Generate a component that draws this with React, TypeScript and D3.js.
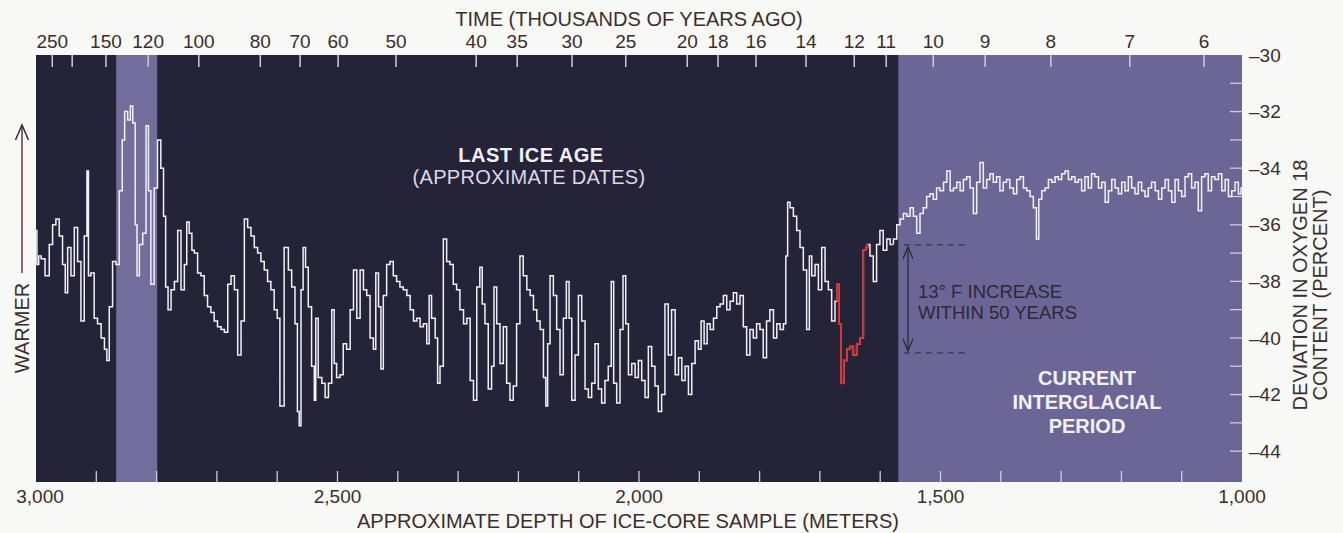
import React from "react";
import * as d3 from "d3";

// ---- data: ice-core depth (m) and oxygen-18 deviation (percent) ----
const depth: number[] = [
  3000, 2997, 2994, 2989, 2981, 2975, 2970, 2964, 2959, 2953, 2950, 2945, 2939, 2934, 2928, 2923, 2917, 2914, 2912, 2906,
  2901, 2895, 2889, 2884, 2881, 2876, 2870, 2865, 2859, 2855, 2851, 2845, 2842, 2837, 2834, 2831, 2826, 2820, 2815, 2812,
  2807, 2801, 2796, 2790, 2787, 2783, 2779, 2773, 2768, 2762, 2757, 2751, 2749, 2743, 2740, 2735, 2729, 2724, 2718, 2713,
  2707, 2702, 2696, 2690, 2685, 2679, 2674, 2668, 2663, 2657, 2652, 2646, 2641, 2635, 2630, 2624, 2619, 2613, 2608, 2602,
  2598, 2593, 2584, 2579, 2573, 2568, 2565, 2562, 2559, 2555, 2551, 2546, 2540, 2537, 2535, 2529, 2523, 2518, 2512, 2507,
  2504, 2499, 2493, 2488, 2482, 2476, 2471, 2465, 2460, 2454, 2449, 2443, 2438, 2435, 2429, 2427, 2421, 2416, 2410, 2405,
  2399, 2394, 2388, 2382, 2377, 2371, 2366, 2360, 2355, 2349, 2347, 2341, 2335, 2333, 2327, 2322, 2316, 2311, 2305, 2300,
  2294, 2288, 2283, 2277, 2272, 2266, 2262, 2258, 2253, 2247, 2242, 2239, 2233, 2228, 2222, 2217, 2211, 2206,
  2200, 2195, 2189, 2183, 2178, 2172, 2167, 2161, 2156, 2153, 2150, 2145, 2139, 2134, 2128, 2123, 2118, 2114, 2109, 2103,
  2098, 2092, 2087, 2081, 2076, 2070, 2065, 2059, 2054, 2048, 2044, 2040, 2034, 2029, 2024, 2020, 2015, 2009, 2004, 1998,
  1993, 1987, 1982, 1976, 1971, 1965, 1960, 1954, 1949, 1943, 1937, 1932, 1926, 1921, 1915, 1910, 1904, 1899, 1895, 1889,
  1885, 1879, 1874, 1868, 1863, 1857, 1852, 1846, 1841, 1835, 1830, 1824, 1819, 1813, 1808,
  1802, 1797, 1791, 1786, 1780, 1774, 1769, 1763, 1758, 1755, 1752, 1747, 1741, 1736, 1730, 1725, 1719, 1716, 1711, 1705,
  1700, 1694, 1689, 1683, 1678, 1672, 1670, 1667, 1663, 1658, 1653, 1647, 1642, 1636, 1631, 1625, 1622, 1620, 1614, 1609,
  1603, 1598, 1592, 1586, 1581, 1575, 1570, 1564, 1559, 1553, 1548, 1542, 1537, 1531, 1526, 1520, 1515, 1509, 1504, 1498,
  1492, 1487, 1481, 1476, 1470, 1465, 1459, 1454, 1448, 1443, 1437, 1432, 1426, 1421, 1415, 1410,
  1404, 1399, 1393, 1388, 1382, 1376, 1371, 1365, 1360, 1354, 1349, 1343, 1339, 1335, 1329, 1324, 1318, 1313, 1307, 1302,
  1296, 1291, 1285, 1280, 1274, 1269, 1263, 1258, 1252, 1247, 1241, 1235, 1230, 1224, 1219, 1213, 1208, 1202, 1197, 1191,
  1186, 1180, 1175, 1169, 1164, 1158, 1153, 1147, 1141, 1136, 1130, 1125, 1119, 1114, 1108, 1103, 1097, 1092, 1086, 1081,
  1075, 1070, 1064, 1059, 1053, 1048, 1042, 1036, 1031, 1025, 1020, 1014, 1009, 1003, 1000,
];

const o18: number[] = [
  -36.2, -37.4, -37.1, -37.2, -37.8, -36.7, -36.0, -35.8, -36.4, -37.4, -38.4, -36.8, -37.8, -36.1, -37.3, -39.4, -36.4, -34.1, -37.8, -37.7,
  -39.3, -39.5, -40.0, -40.4, -40.8, -38.9, -37.3, -37.4, -34.8, -33.0, -32.0, -32.3, -31.8, -32.4, -36.0, -37.8, -36.7, -36.3, -32.5, -34.8,
  -38.1, -34.7, -33.0, -34.0, -35.7, -38.2, -39.0, -38.3, -38.0, -36.2, -38.3, -37.4, -35.9, -36.3, -36.9, -37.0, -37.7, -37.8, -38.5, -38.9,
  -39.1, -39.4, -39.6, -39.7, -39.8, -38.1, -37.8, -38.3, -40.6, -39.4, -35.8, -36.1, -36.4, -36.8, -37.0, -37.3, -37.6, -38.0, -38.3, -39.0,
  -39.3, -42.4, -36.8, -37.6, -38.2, -39.5, -42.6, -43.1, -38.3, -36.8, -37.5, -38.9, -41.0, -42.2, -39.3, -41.4, -41.6, -42.1, -41.6, -39.0,
  -40.9, -41.4, -41.3, -40.2, -40.4, -39.0, -37.6, -39.3, -37.6, -38.3, -38.5, -40.0, -40.4, -37.7, -38.9, -41.1, -38.5, -37.4, -37.3, -37.8,
  -38.0, -38.2, -38.3, -38.5, -39.0, -39.4, -39.3, -39.6, -39.5, -40.2, -38.5, -39.3, -40.0, -41.6, -41.0, -36.5, -37.3, -37.4, -38.1, -38.3,
  -39.0, -39.5, -39.3, -41.5, -42.2, -38.2, -37.5, -38.8, -39.5, -41.8, -41.0, -38.2, -39.5, -40.9, -39.6, -41.6, -42.2, -41.7,
  -39.5, -37.1, -37.8, -38.3, -38.5, -39.0, -39.4, -39.7, -41.4, -42.4, -40.2, -37.8, -38.5, -39.7, -41.3, -39.3, -38.0, -39.3, -42.2, -40.6,
  -38.5, -39.4, -41.8, -42.1, -41.6, -40.2, -41.8, -42.3, -41.5, -41.0, -38.0, -41.6, -42.3, -39.7, -37.8, -39.5, -41.3, -40.9, -41.4, -40.8,
  -41.5, -42.1, -40.3, -41.0, -41.7, -42.6, -42.0, -38.8, -40.6, -39.0, -41.3, -40.7, -41.5, -41.0, -42.0, -40.9, -40.1, -40.4, -39.4, -40.2,
  -39.5, -39.7, -39.3, -38.9, -38.8, -38.5, -39.0, -38.7, -38.4, -38.8, -38.5, -39.6, -40.6, -39.7, -40.0,
  -39.5, -39.7, -40.7, -39.4, -39.0, -40.0, -39.5, -39.7, -39.5, -37.1, -35.2, -35.4, -35.7, -36.2, -36.8, -37.6, -39.7, -37.1, -37.8, -37.4,
  -38.3, -36.8, -38.0, -38.3, -39.4, -38.7, -38.1, -39.5, -41.6, -40.8, -40.4, -40.3, -40.6, -40.2, -40.0, -36.9, -36.8, -36.7, -37.1, -38.0,
  -36.7, -36.2, -36.9, -36.5, -36.7, -36.5, -36.0, -35.8, -35.6, -35.7, -35.4, -35.7, -36.3, -35.6, -35.4, -35.0, -34.9, -35.1, -34.7, -34.8,
  -34.5, -34.1, -34.8, -34.7, -34.5, -34.8, -34.4, -34.3, -34.7, -35.6, -34.5, -33.8, -34.7, -34.4, -34.2, -34.5,
  -34.3, -34.8, -34.5, -34.4, -34.7, -34.9, -34.4, -34.3, -34.7, -34.8, -35.0, -35.4, -36.5, -35.1, -34.8, -34.7, -34.4, -34.5, -34.3, -34.4,
  -34.2, -34.1, -34.4, -34.3, -34.5, -34.4, -34.8, -34.3, -34.7, -34.2, -34.3, -34.7, -34.5, -35.2, -34.8, -34.4, -34.7, -34.9, -34.5, -34.8,
  -34.3, -34.7, -34.9, -34.5, -34.8, -35.0, -34.7, -34.5, -34.8, -35.1, -34.7, -34.4, -34.8, -35.2, -34.4, -34.8, -35.0, -34.3, -34.2, -34.7,
  -34.5, -35.5, -34.3, -34.2, -34.8, -34.3, -34.4, -34.2, -34.8, -34.4, -35.0, -34.8, -34.5, -34.9, -34.7,
];

// abrupt-warming segment drawn in red (depth range, m)
const redFrom = 1672;
const redTo = 1620;

// top axis: age (thousands of years ago) at ice depth (m)
const ageLabels: string[] = ["250", "", "150", "120", "100", "80", "70", "60", "50", "40", "35", "30", "25", "20", "18", "16", "14", "12", "11", "10", "9", "8", "7", "6"];
const ageDepths: number[] = [2973, 2940, 2884, 2814, 2730, 2628, 2562, 2499, 2403, 2270, 2202, 2111, 2022, 1920, 1869, 1806, 1723, 1643, 1590, 1512, 1426, 1317, 1186, 1063];

const depthLabels: number[] = [3000, 2500, 2000, 1500, 1000];
const valueLabels: number[] = [-30, -32, -34, -36, -38, -40, -42, -44];

// shaded periods (depth ranges)
const warmBands: [number, number][] = [[2867, 2799], [1570, 1000]];

// annotation values
const jumpLow = -40.53;
const jumpHigh = -36.71;

const W = 1343;
const H = 533;
const FONT = "'Liberation Sans', Arial, Helvetica, sans-serif";
const INK = "#3a2e2e";

export default function App() {
  const x = d3.scaleLinear().domain([3000, 1000]).range([36, 1242]);
  const y = d3.scaleLinear().domain([-30, -45.09]).range([55, 482]);
  const pts = depth.map((d, i) => [d, o18[i]] as [number, number]);
  const line = d3
    .line<[number, number]>()
    .x((p) => x(p[0]))
    .y((p) => y(p[1]))
    .curve(d3.curveStep);
  const redPts = pts.filter((p) => p[0] <= redFrom && p[0] >= redTo);

  const bottomTicks = d3.range(2900, 1000, -100);
  const rightTicks = d3.range(-31, -45, -1);
  const fmt = d3.format(",");

  const arrowX = x(1554);
  const dashX1 = x(1579);
  const dashX2 = x(1459);

  return (
    <svg width={W} height={H} style={{ position: "absolute", left: 0, top: 0, background: "#f8f8f6" }} fontFamily={FONT}>
      <rect x={0} y={0} width={W} height={H} fill="#f8f8f6" />
      {/* plot background */}
      <rect x={x(3000)} y={y(-30)} width={x(1000) - x(3000)} height={y(-45.09) - y(-30)} fill="#252338" />
      {warmBands.map((b, i) => (
        <rect key={i} x={x(b[0])} y={y(-30)} width={x(b[1]) - x(b[0])} height={y(-45.09) - y(-30)} fill={i === 0 ? "#736d9c" : "#6c6696"} />
      ))}

      {/* top ticks & labels */}
      {ageDepths.map((d, i) => (
        <g key={i}>
          <line x1={x(d)} x2={x(d)} y1={y(-30)} y2={y(-30) + 12} stroke="#cfcbe0" strokeWidth={1.5} />
          {ageLabels[i] && (
            <text x={x(d)} y={48} textAnchor="middle" fontSize={19} fill={INK}>
              {ageLabels[i]}
            </text>
          )}
        </g>
      ))}
      <text x={629} y={26} textAnchor="middle" fontSize={20} fill={INK}>
        TIME (THOUSANDS OF YEARS AGO)
      </text>

      {/* bottom ticks & labels */}
      {bottomTicks.map((d) => (
        <line key={d} x1={x(d)} x2={x(d)} y1={y(-45.09)} y2={y(-45.09) - 11} stroke="#cfcbe0" strokeWidth={1.3} />
      ))}
      {depthLabels.map((d) => (
        <text key={d} x={x(d) + (d === 3000 ? 4 : 0)} y={503} textAnchor="middle" fontSize={19} fill={INK}>
          {fmt(d)}
        </text>
      ))}
      <text x={628} y={528} textAnchor="middle" fontSize={20} fill={INK}>
        APPROXIMATE DEPTH OF ICE-CORE SAMPLE (METERS)
      </text>

      {/* right ticks & labels */}
      {rightTicks.map((v) => (
        <line key={v} x1={x(1000)} x2={x(1000) - 12} y1={y(v)} y2={y(v)} stroke="#cfcbe0" strokeWidth={1.3} />
      ))}
      {valueLabels.map((v) => (
        <text key={v} x={1249} y={y(v)} dy="0.35em" fontSize={19} fill={INK}>
          {"\u2013" + Math.abs(v)}
        </text>
      ))}
      <text transform="translate(1307,285) rotate(-90)" textAnchor="middle" fontSize={20} fill={INK}>
        DEVIATION IN OXYGEN 18
      </text>
      <text transform="translate(1327,295) rotate(-90)" textAnchor="middle" fontSize={20} fill={INK}>
        CONTENT (PERCENT)
      </text>

      {/* warmer arrow */}
      <line x1={22} x2={22} y1={273} y2={126} stroke="#5a3c3c" strokeWidth={1.5} />
      <polyline points="15.5,140 22,125 28.5,140" fill="none" stroke="#3a2e2e" strokeWidth={1.5} />
      <text transform="translate(29,328) rotate(-90)" textAnchor="middle" fontSize={20} fill={INK}>
        WARMER
      </text>

      {/* data */}
      <path d={line(pts) || ""} fill="none" stroke="#f1eff8" strokeWidth={1.5} strokeLinejoin="miter" />
      <path d={line(redPts) || ""} fill="none" stroke="#d92b2b" strokeWidth={1.8} />

      {/* annotations */}
      <text x={531} y={162} textAnchor="middle" fontSize={20} fontWeight="bold" letterSpacing={0.5} fill="#f3f1f8">
        LAST ICE AGE
      </text>
      <text x={529} y={184} textAnchor="middle" fontSize={20} letterSpacing={0.3} fill="#dcd8e8">
        (APPROXIMATE DATES)
      </text>

      <line x1={dashX1} x2={dashX2} y1={y(jumpHigh)} y2={y(jumpHigh)} stroke="#2c2935" strokeWidth={1} strokeDasharray="6,5" />
      <line x1={dashX1} x2={dashX2} y1={y(jumpLow)} y2={y(jumpLow)} stroke="#2c2935" strokeWidth={1} strokeDasharray="6,5" />
      <line x1={arrowX} x2={arrowX} y1={y(jumpHigh) + 2} y2={y(jumpLow) - 2} stroke="#2c2935" strokeWidth={1.3} />
      <polyline points={`${arrowX - 5},${y(jumpHigh) + 14} ${arrowX},${y(jumpHigh) + 2} ${arrowX + 5},${y(jumpHigh) + 14}`} fill="none" stroke="#2c2935" strokeWidth={1.3} />
      <polyline points={`${arrowX - 5},${y(jumpLow) - 14} ${arrowX},${y(jumpLow) - 2} ${arrowX + 5},${y(jumpLow) - 14}`} fill="none" stroke="#2c2935" strokeWidth={1.3} />
      <text x={918} y={298} fontSize={18.5} fill="#2b2838">
        13° F INCREASE
      </text>
      <text x={918} y={319} fontSize={18.5} fill="#2b2838">
        WITHIN 50 YEARS
      </text>

      <text x={1087} y={385} textAnchor="middle" fontSize={20} fontWeight="bold" fill="#f3f1f8">
        CURRENT
      </text>
      <text x={1087} y={409} textAnchor="middle" fontSize={20} fontWeight="bold" fill="#f3f1f8">
        INTERGLACIAL
      </text>
      <text x={1087} y={433} textAnchor="middle" fontSize={20} fontWeight="bold" fill="#f3f1f8">
        PERIOD
      </text>
    </svg>
  );
}
